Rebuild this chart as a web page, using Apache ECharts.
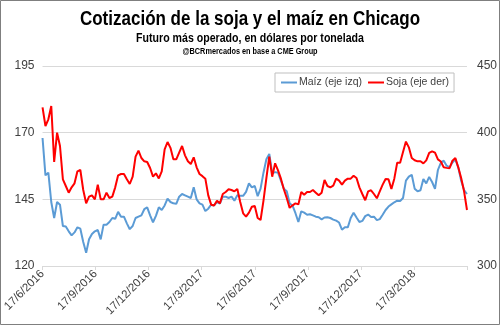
<!DOCTYPE html>
<html><head><meta charset="utf-8">
<script src="https://cdn.jsdelivr.net/npm/echarts@6/dist/echarts.min.js"></script>
<style>html,body{margin:0;padding:0;background:#fff}#c{width:500px;height:325px}</style>
</head><body><div id="c"></div>
<script>
// Sampling: one point every 5 calendar days from 17/6/2016 to 16/6/2018
const startDate = '2016-06-17';
const stepDays = 5;
// Maíz (left axis, USD/t)
const maiz = [168,154,155,144,138,144,143,135,134.8,133,131.5,132.6,134.5,134,129,125,130,132,133,133.5,
130,135.5,135.5,136.5,138,137.7,140.3,138.5,138.5,136,133.8,135,138,138.5,139,141.3,142,139,136.4,138.8,
142,141,142.7,145.3,144,143.5,143.3,146,147,146.5,146,145.5,149.5,145,143.5,143,140.6,141.5,143,142.7,
144,143.4,146,146,145.5,146,144.5,146.5,146.3,146.3,147.8,151,149.5,150,146.2,149,155,160,162,154.8,
155.2,155,152,149,148,143.5,142.6,139.8,136.5,140.5,140,139.2,139.4,139,138.5,138.3,137.5,138.2,138.3,138,
137.4,137,136.3,133.6,134.5,134.5,138,140,138.2,136.5,136.9,138.7,139.3,138.4,138.5,137.2,137.6,139.2,141,142.3,
143.1,143.9,144.5,144.4,145.5,152,153.5,154.2,149,148,148.4,152.6,151,153.4,151.5,148.9,156,158.7,159.5,157.6,
157,158.8,160,157,152,148.5,147];
// Soja (right axis, USD/t)
const soja = [419,405,410,420,378,400,390,365,360,355,359,362,371,372,357,347,352,353,350,361,
350,350,355,351,352,359,368,369,369,365,361.5,367,382,386.5,381,378.5,378,373.5,367,369.5,
365.7,371,387.5,393,388.6,380,380,385,390,383,378.6,376.5,381.5,374,369,367.4,365.5,353,346,345.4,
349,347,354,355.5,357.5,357,356,357.8,348,339.5,337,340,344.4,345,336,334.5,349,366,382,367,
377,371.7,365.5,357.6,351,343.6,345.5,347,346.2,355.5,353.5,355.5,355.5,357,355,353,355,364.5,360,359,
360.2,365.5,364,361,364,365.5,365.5,367.7,366,359,354,349.3,356,356.8,354,350.8,356,361,365.3,365,
357.7,365.5,377.5,377.4,385.5,393.3,389,381,379.3,378.5,378.6,377,379.2,384.8,386,385,380,378.4,374,373.6,
373.3,379,381,374,366,356,342];
const seriesNames = ['Maíz (eje izq)', 'Soja (eje der)'];
const leftTicks = [120, 195, 25];   // min, max, interval
const rightTicks = [300, 450, 50];
const titles = ['Cotización de la soja y el maíz en Chicago',
                'Futuro más operado, en dólares por tonelada',
                '@BCRmercados en base a CME Group'];

const days = maiz.map((_, i) => i * stepDays);
const totalDays = days[days.length - 1];
const s0 = new Date(startDate + 'T00:00:00Z');
function labelFor(v) {
  if (v > totalDays - 30) return '';
  const m = Math.round(v / 91.25) * 3;
  const d = new Date(Date.UTC(s0.getUTCFullYear(), s0.getUTCMonth() + m, 17));
  return d.getUTCDate() + '/' + (d.getUTCMonth() + 1) + '/' + d.getUTCFullYear();
}

const chart = echarts.init(document.getElementById('c'), null, {renderer: 'canvas'});
const font = "'Liberation Sans', Arial, sans-serif";
function titleText(t, y, size, sx) {
  return {type: 'text', x: 250, y: y, scaleX: sx, silent: true,
    style: {text: t, font: 'bold ' + size + "px 'Liberation Sans', Arial, sans-serif",
            textAlign: 'center', textVerticalAlign: 'middle', fill: '#000'}};
}
chart.setOption({
  animation: false,
  backgroundColor: '#fff',
  graphic: [
    {type: 'rect', shape: {x: 0.5, y: 0.5, width: 499, height: 324},
     style: {fill: null, stroke: '#7f7f7f', lineWidth: 1}, silent: true},
    titleText(titles[0], 19, 20, 0.85),
    titleText(titles[1], 38, 13, 0.815),
    titleText(titles[2], 51.5, 9.5, 0.77)
  ],
  legend: {
    data: seriesNames, left: 275, top: 73,
    borderColor: '#bfbfbf', borderWidth: 1, padding: [4, 5, 4, 6],
    itemGap: 6, itemWidth: 16, itemHeight: 2, icon: 'rect',
    textStyle: {fontFamily: font, fontSize: 10.5, color: '#404040', padding: [0, 0, 0, -3]}
  },
  grid: {left: 41, right: 32, top: 66, bottom: 59, containLabel: false},
  xAxis: {
    type: 'value', min: 0, max: totalDays, interval: 91.25,
    splitLine: {show: false},
    axisLine: {lineStyle: {color: '#d9d9d9'}},
    axisTick: {show: true, length: 4, lineStyle: {color: '#d9d9d9'}},
    axisLabel: {rotate: 45, formatter: labelFor, fontFamily: font, fontSize: 11.5, color: '#404040', margin: 6, showMaxLabel: true}
  },
  yAxis: [
    {type: 'value', min: leftTicks[0], max: leftTicks[1], interval: leftTicks[2],
     axisLine: {show: false}, axisTick: {show: false},
     splitLine: {lineStyle: {color: '#d9d9d9'}},
     axisLabel: {fontFamily: font, fontSize: 12, color: '#404040', margin: 8}},
    {type: 'value', min: rightTicks[0], max: rightTicks[1], interval: rightTicks[2],
     axisLine: {show: false}, axisTick: {show: false}, splitLine: {show: false},
     axisLabel: {fontFamily: font, fontSize: 12, color: '#404040', margin: 10}}
  ],
  series: [
    {name: seriesNames[0], type: 'line', yAxisIndex: 0, showSymbol: false, symbol: 'none',
     lineStyle: {color: '#5b9bd5', width: 2}, itemStyle: {color: '#5b9bd5'},
     data: days.map((d, i) => [d, maiz[i]])},
    {name: seriesNames[1], type: 'line', yAxisIndex: 1, showSymbol: false, symbol: 'none',
     lineStyle: {color: '#ff0000', width: 2}, itemStyle: {color: '#ff0000'},
     data: days.map((d, i) => [d, soja[i]])}
  ]
});
</script></body></html>
